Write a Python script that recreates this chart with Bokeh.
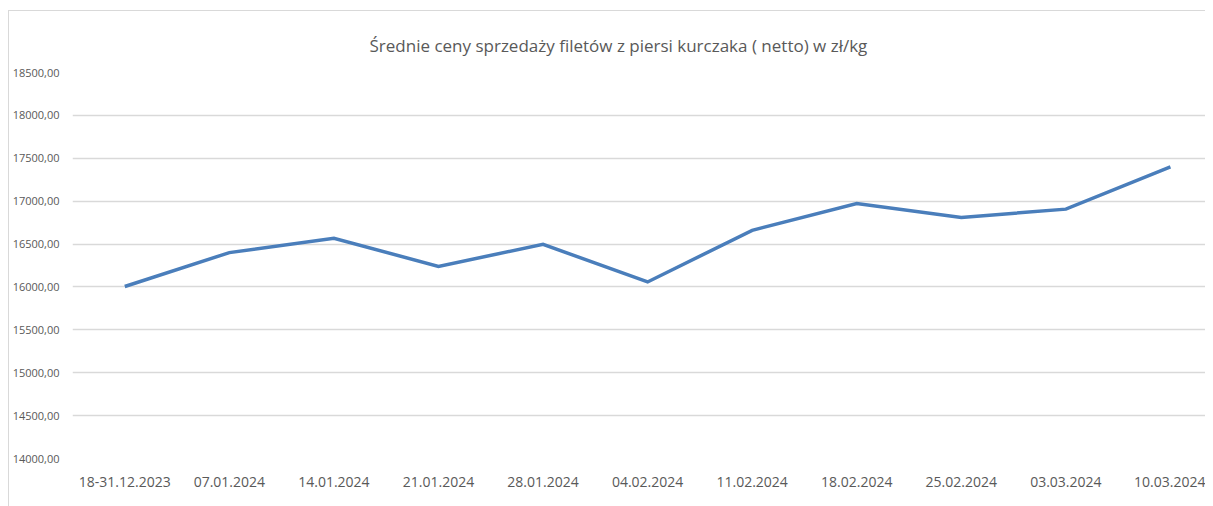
from bokeh.plotting import figure
from bokeh.models import FixedTicker, Range1d
from bokeh.embed import file_html
from bokeh.resources import INLINE

categories = ["18-31.12.2023", "07.01.2024", "14.01.2024", "21.01.2024", "28.01.2024",
              "04.02.2024", "11.02.2024", "18.02.2024", "25.02.2024", "03.03.2024", "10.03.2024"]
prices = [16005, 16400, 16567, 16240, 16497, 16058, 16660, 16972, 16810, 16907, 17400]
y_ticks = [14000, 14500, 15000, 15500, 16000, 16500, 17000, 17500, 18000, 18500]
y_tick_labels = ["14000,00", "14500,00", "15000,00", "15500,00", "16000,00",
                 "16500,00", "17000,00", "17500,00", "18000,00", "18500,00"]
title_text = "Średnie ceny sprzedaży filetów z piersi kurczaka ( netto) w zł/kg"

FONT = "Open Sans"
TXT = "#595959"

xs = list(range(len(categories)))

p = figure(width=1197, height=496, output_backend="svg", toolbar_location=None,
           x_range=Range1d(-0.5, 10.345), y_range=Range1d(14000, 18500),
           min_border_left=61, min_border_right=0, min_border_top=61, min_border_bottom=49,
           title=title_text)
p.outline_line_color = None
p.background_fill_color = "white"
p.border_fill_color = "white"
p.styles = {"margin-left": "8px", "margin-top": "10px",
            "border-left": "1px solid #d9d9d9", "border-top": "1px solid #d9d9d9"}

p.title.align = "left"
p.title.offset = 297
p.title.text_font = FONT
p.title.text_font_size = "17px"
p.title.text_font_style = "normal"
p.title.text_color = TXT
p.title.standoff = 32

p.line(xs, prices, line_color="#4a7ebb", line_width=3.5, line_join="miter")

p.xaxis.ticker = FixedTicker(ticks=xs)
p.xaxis.major_label_overrides = {i: c for i, c in enumerate(categories)}
p.yaxis.ticker = FixedTicker(ticks=y_ticks)
p.yaxis.major_label_overrides = {t: l for t, l in zip(y_ticks, y_tick_labels)}

for ax in (p.xaxis, p.yaxis):
    ax.axis_line_color = None
    ax.major_tick_line_color = None
    ax.minor_tick_line_color = None
    ax.major_tick_out = 0
    ax.major_tick_in = 0
    ax.minor_tick_out = 0
    ax.minor_tick_in = 0
    ax.major_label_text_font = FONT
    ax.major_label_text_color = TXT
p.xaxis.major_label_text_font_size = "14px"
p.yaxis.major_label_text_font_size = "11px"
p.xaxis.major_label_standoff = 18
p.yaxis.major_label_standoff = 13

p.xgrid.grid_line_color = None
p.ygrid.grid_line_color = "#d9d9d9"
p.ygrid.grid_line_width = 1.3

open("out.html", "w").write(file_html(p, INLINE))
